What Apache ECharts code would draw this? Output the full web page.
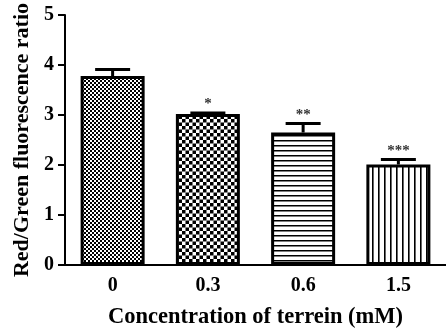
<!DOCTYPE html>
<html>
<head>
<meta charset="utf-8">
<script src="https://cdn.jsdelivr.net/npm/echarts@6/dist/echarts.min.js"></script>
<style>html,body{margin:0;padding:0;background:#fff;}#c{width:446px;height:334px;}</style>
</head>
<body>
<div id="c"></div>
<script>
var categories = ['0', '0.3', '0.6', '1.5'];
var values = [3.78, 3.02, 2.65, 2.01];
var errors = [0.13, 0.02, 0.18, 0.10];
var signif = ['', '*', '**', '***'];
var yTicks = [0, 1, 2, 3, 4, 5];

function makePattern(type) {
  var c = document.createElement('canvas');
  var ctx;
  if (type === 0) {
    c.width = 4; c.height = 4; ctx = c.getContext('2d');
    ctx.fillStyle = '#fff'; ctx.fillRect(0, 0, 4, 4);
    ctx.fillStyle = '#000'; ctx.fillRect(0, 0, 2, 2); ctx.fillRect(2, 2, 2, 2);
  } else if (type === 1) {
    c.width = 7; c.height = 7; ctx = c.getContext('2d');
    ctx.fillStyle = '#fff'; ctx.fillRect(0, 0, 7, 7);
    ctx.fillStyle = '#000'; ctx.fillRect(0, 0, 3.5, 3.5); ctx.fillRect(3.5, 3.5, 3.5, 3.5);
  } else if (type === 2) {
    c.width = 4; c.height = 5; ctx = c.getContext('2d');
    ctx.fillStyle = '#fff'; ctx.fillRect(0, 0, 4, 5);
    ctx.fillStyle = '#000'; ctx.fillRect(0, 0, 4, 1.5);
  } else {
    c.width = 6; c.height = 4; ctx = c.getContext('2d');
    ctx.fillStyle = '#fff'; ctx.fillRect(0, 0, 6, 4);
    ctx.fillStyle = '#000'; ctx.fillRect(0, 0, 1.6, 4);
  }
  return { image: c, repeat: 'repeat' };
}

var font = 'Liberation Serif';
var chart = echarts.init(document.getElementById('c'), null, { renderer: 'canvas' });
chart.setOption({
  animation: false,
  backgroundColor: '#fff',
  grid: { left: 65, top: 15, width: 388, height: 258, containLabel: false },
  xAxis: {
    type: 'category',
    data: categories,
    name: 'Concentration of terrein (mM)',
    nameLocation: 'middle',
    nameGap: 41,
    nameTextStyle: { fontFamily: font, fontWeight: 'bold', fontSize: 22.5, color: '#000' },
    axisLine: { lineStyle: { color: '#000', width: 2 } },
    axisTick: { alignWithLabel: true, length: 6, lineStyle: { color: '#000', width: 2 } },
    axisLabel: { fontFamily: font, fontWeight: 'bold', fontSize: 20, color: '#000', margin: 11 },
    splitLine: { show: false }
  },
  yAxis: {
    type: 'value',
    min: yTicks[0], max: yTicks[yTicks.length - 1], interval: 1,
    name: 'Red/Green fluorescence ratio',
    nameLocation: 'middle',
    nameGap: 31,
    nameTextStyle: { fontFamily: font, fontWeight: 'bold', fontSize: 22, color: '#000' },
    axisLine: { show: true, lineStyle: { color: '#000', width: 2 } },
    axisTick: { show: true, length: 7, lineStyle: { color: '#000', width: 2 } },
    axisLabel: { fontFamily: font, fontWeight: 'bold', fontSize: 20, color: '#000', margin: 11 },
    splitLine: { show: false }
  },
  series: [
    {
      type: 'bar',
      barWidth: 64,
      data: values.map(function (v, i) {
        return { value: v, itemStyle: { color: makePattern(i), borderColor: '#000', borderWidth: 3 } };
      }),
      z: 2
    },
    {
      type: 'custom',
      z: 3,
      renderItem: function (params, api) {
        var i = api.value(0);
        var top = api.coord([i, api.value(1) + api.value(2)]);
        var base = api.coord([i, api.value(1)]);
        var half = 17.5;
        var children = [
          { type: 'line', shape: { x1: base[0], y1: base[1], x2: top[0], y2: top[1] }, style: { stroke: '#000', lineWidth: 3 } },
          { type: 'line', shape: { x1: top[0] - half, y1: top[1], x2: top[0] + half, y2: top[1] }, style: { stroke: '#000', lineWidth: 3 } }
        ];
        var s = signif[i];
        if (s) {
          children.push({ type: 'text', style: { text: s, x: top[0], y: top[1] - 1, align: 'center', verticalAlign: 'bottom', font: 'bold 15px "Liberation Serif"', fill: '#333' } });
        }
        return { type: 'group', children: children };
      },
      data: values.map(function (v, i) { return [i, v, errors[i]]; })
    }
  ]
});
</script>
</body>
</html>
